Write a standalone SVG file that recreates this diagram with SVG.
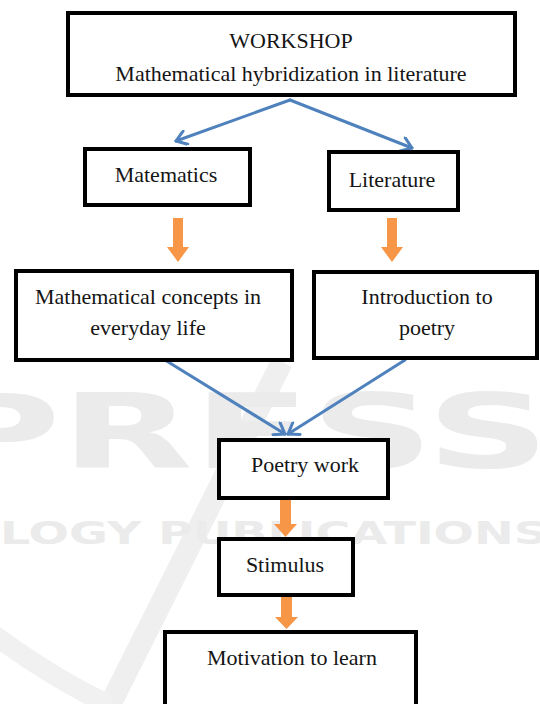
<svg xmlns="http://www.w3.org/2000/svg" width="540" height="704" viewBox="0 0 540 704">
<style>
.box{fill:#fff;stroke:#000;stroke-width:4}
.t{font-family:'Liberation Serif','Times New Roman',serif;font-size:22px;fill:#151515;text-anchor:middle}
.blue{fill:none;stroke:#4f81bd;stroke-width:3;stroke-linecap:round}
.orange{fill:#f79646}
.wm{font-family:'DejaVu Sans',sans-serif;font-weight:bold;fill:#ebebeb}
</style>
<defs>
<marker id="chev" markerUnits="userSpaceOnUse" markerWidth="16" markerHeight="16" refX="13" refY="8" orient="auto">
<path d="M3,1 L13,8 L3,15" fill="none" stroke="#4f81bd" stroke-width="3" stroke-linejoin="round" stroke-linecap="round"/>
</marker>
</defs>
<rect width="540" height="704" fill="#fff"/>
<g id="watermark">
<path d="M110,705 L282,362" fill="none" stroke="#efefef" stroke-width="22"/>
<path d="M-10,632 Q55,680 110,705" fill="none" stroke="#f1f1f1" stroke-width="20"/>
<text class="wm" x="-65" y="468" font-size="104" textLength="615" lengthAdjust="spacingAndGlyphs">PRESS</text>
<text class="wm" x="0" y="544" font-size="32" textLength="548" lengthAdjust="spacingAndGlyphs">LOGY PUBLICATIONS</text>
</g>
<g id="connectors">
<line class="blue" x1="290" y1="100" x2="176" y2="141" marker-end="url(#chev)"/>
<line class="blue" x1="290" y1="100" x2="412" y2="148" marker-end="url(#chev)"/>
<line class="blue" x1="165" y1="360" x2="285" y2="434" marker-end="url(#chev)"/>
<line class="blue" x1="405" y1="360" x2="288" y2="434" marker-end="url(#chev)"/>
<polygon class="orange" points="173,218 183,218 183,247 189,247 178,262 167,247 173,247"/>
<polygon class="orange" points="387,218 397,218 397,247 403,247 392,262 381,247 387,247"/>
<polygon class="orange" points="280,500 291,500 291,524 297,524 285.5,537 274,524 280,524"/>
<polygon class="orange" points="281,597 292,597 292,617 298,617 286.5,629 275,617 281,617"/>
</g>
<g id="workshop">
<rect class="box" x="68" y="13" width="447" height="82" stroke-width="4.5"/>
<text class="t" x="291" y="48">WORKSHOP</text>
<text class="t" x="291" y="81">Mathematical hybridization in literature</text>
</g>
<g id="matematics">
<rect class="box" x="85" y="149" width="165" height="56"/>
<text class="t" x="166" y="182">Matematics</text>
</g>
<g id="literature">
<rect class="box" x="329" y="152" width="129" height="58"/>
<text class="t" x="392" y="187">Literature</text>
</g>
<g id="concepts">
<rect class="box" x="16" y="271" width="276" height="89"/>
<text class="t" x="148" y="304">Mathematical concepts in</text>
<text class="t" x="148" y="335">everyday life</text>
</g>
<g id="poetry-intro">
<rect class="box" x="314" y="272" width="223" height="86"/>
<text class="t" x="427" y="304">Introduction to</text>
<text class="t" x="427" y="335">poetry</text>
</g>
<g id="poetrywork">
<rect class="box" x="219" y="440" width="169" height="58"/>
<text class="t" x="305" y="472">Poetry work</text>
</g>
<g id="stimulus">
<rect class="box" x="219" y="539" width="134" height="56"/>
<text class="t" x="285" y="572">Stimulus</text>
</g>
<g id="motivation">
<rect class="box" x="165" y="632" width="251" height="80"/>
<text class="t" x="292" y="665">Motivation to learn</text>
</g>
</svg>
